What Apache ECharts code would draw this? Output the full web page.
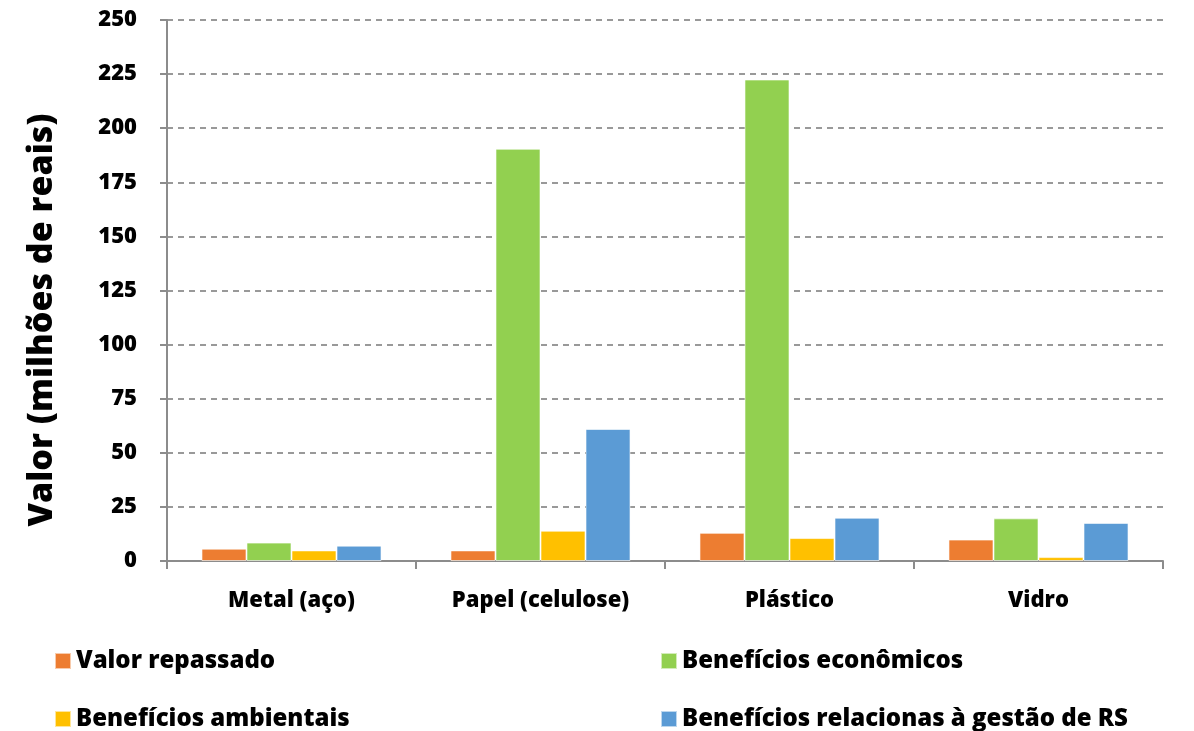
<!DOCTYPE html>
<html>
<head>
<meta charset="utf-8">
<script src="https://cdn.jsdelivr.net/npm/echarts@6/dist/echarts.min.js"></script>
<style>
  html, body { margin: 0; padding: 0; background: #fff; }
  #chart { width: 1194px; height: 731px; }
</style>
</head>
<body>
<div id="chart"></div>
<script>
// Materiais e valores (milhões de reais)
const categories = ['Metal (aço)', 'Papel (celulose)', 'Plástico', 'Vidro'];
const valorRepassado = [5.7, 4.9, 13.0, 9.9];
const beneficiosEconomicos = [8.5, 190.5, 222.5, 19.7];
const beneficiosAmbientais = [4.9, 14.0, 10.6, 1.8];
const beneficiosGestaoRS = [7.1, 61.0, 20.0, 17.6];
const seriesNames = ['Valor repassado', 'Benefícios econômicos', 'Benefícios ambientais', 'Benefícios relacionas à gestão de RS'];
const yTicks = [0, 25, 50, 75, 100, 125, 150, 175, 200, 225, 250];

const colors = ['#ED7D31', '#92D050', '#FFC000', '#5B9BD5'];
const FONT = '"Open Sans", "Noto Sans", sans-serif';
const WEIGHT = 800;

const chart = echarts.init(document.getElementById('chart'));

const legendBase = {
  itemWidth: 16,
  itemHeight: 16,
  itemGap: 8,
  icon: 'rect',
  textStyle: { fontFamily: FONT, fontSize: 24, fontWeight: WEIGHT, color: '#000' }
};

const option = {
  backgroundColor: '#fff',
  color: colors,
  grid: { left: 167, right: 31, top: 20, bottom: 170, containLabel: false },
  legend: [
    Object.assign({ data: [seriesNames[0]], left: 49, top: 644 }, legendBase),
    Object.assign({ data: [seriesNames[1]], left: 655, top: 644 }, legendBase),
    Object.assign({ data: [seriesNames[2]], left: 49, top: 702 }, legendBase),
    Object.assign({ data: [seriesNames[3]], left: 655, top: 702 }, legendBase)
  ],
  xAxis: {
    type: 'category',
    data: categories,
    axisLine: { lineStyle: { color: '#8c8c8c', width: 2 } },
    axisTick: { show: true, length: 8, alignWithLabel: false, lineStyle: { color: '#8c8c8c', width: 2 } },
    axisLabel: { margin: 29, fontFamily: FONT, fontSize: 22, fontWeight: WEIGHT, color: '#000' }
  },
  yAxis: {
    type: 'value',
    min: yTicks[0],
    max: yTicks[yTicks.length - 1],
    interval: 25,
    axisLine: { show: true, lineStyle: { color: '#8c8c8c', width: 2 } },
    axisTick: { show: true, length: 7, lineStyle: { color: '#8c8c8c', width: 2 } },
    axisLabel: { margin: 30, fontFamily: FONT, fontSize: 22, fontWeight: WEIGHT, color: '#000' },
    splitLine: { show: true, lineStyle: { color: '#999', width: 2, type: [6, 5] } }
  },
  graphic: [{
    type: 'text',
    x: 42,
    y: 320,
    rotation: Math.PI / 2,
    style: {
      text: 'Valor (milhões de reais)',
      fontFamily: FONT,
      fontSize: 34,
      fontWeight: WEIGHT,
      fill: '#000',
      align: 'center',
      verticalAlign: 'middle'
    }
  }],
  series: [
    { name: seriesNames[0], type: 'bar', data: valorRepassado },
    { name: seriesNames[1], type: 'bar', data: beneficiosEconomicos },
    { name: seriesNames[2], type: 'bar', data: beneficiosAmbientais },
    { name: seriesNames[3], type: 'bar', data: beneficiosGestaoRS }
  ].map(s => Object.assign(s, {
    barGap: '0%',
    barCategoryGap: '27.7%',
    itemStyle: { borderColor: 'rgba(255,255,255,0.6)', borderWidth: 1 }
  }))
};

chart.setOption(option);
</script>
</body>
</html>
